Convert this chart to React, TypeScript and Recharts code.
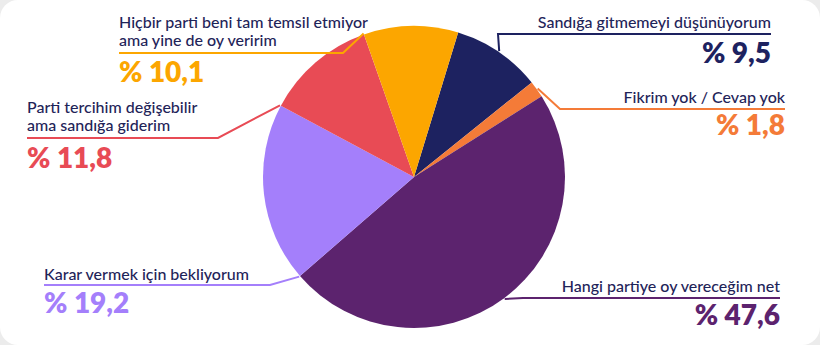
import { PieChart, Pie, Cell } from "recharts";

const categories = [
  ["Sandığa gitmemeyi düşünüyorum"],
  ["Fikrim yok / Cevap yok"],
  ["Hangi partiye oy vereceğim net"],
  ["Karar vermek için bekliyorum"],
  ["Parti tercihim değişebilir", "ama sandığa giderim"],
  ["Hiçbir parti beni tam temsil etmiyor", "ama yine de oy veririm"],
];
const values = [9.5, 1.8, 47.6, 19.2, 11.8, 10.1];
const colors = ["#1d2260", "#f47b38", "#5c236e", "#a47ffb", "#e84b55", "#fca600"];

// label placement: anchor on slice (mid or start edge), bend point, line end, text baselines
const layout = [
  { anchor: "mid", side: "right", bend: [498, 34], end: 771, lines: [28], value: 63 },
  { anchor: "mid", side: "right", bend: [560, 109], end: 785, lines: [103], value: 135 },
  { anchor: "mid", side: "right", bend: [523, 298], end: 780, lines: [292], value: 325 },
  { anchor: "start", side: "left", bend: [270, 285], end: 44, lines: [280], value: 313 },
  { anchor: "start", side: "left", bend: [218, 138], end: 27, lines: [113, 131], value: 168 },
  { anchor: "start", side: "left", bend: [343, 53], end: 119, lines: [28, 46], value: 82 },
];

const data = categories.map((c, i) => ({ name: c.join(" "), value: values[i] }));

const RAD = Math.PI / 180;
const textColor = "#1f2459";
const font = "Lato, 'Open Sans', sans-serif";

function renderLabel(props: any) {
  const { cx, cy, outerRadius, midAngle, startAngle, index } = props;
  const l = layout[index];
  const a = l.anchor === "mid" ? midAngle : startAngle;
  const r = outerRadius + 1;
  const ex = cx + r * Math.cos(a * RAD);
  const ey = cy - r * Math.sin(a * RAD);
  const anchor = l.side === "right" ? "end" : "start";
  const ly = l.bend[1];
  return (
    <g key={`lbl-${index}`}>
      <polyline
        points={`${ex},${ey} ${l.bend[0]},${ly} ${l.end},${ly}`}
        fill="none"
        stroke={colors[index]}
        strokeWidth={2}
      />
      {categories[index].map((t, j) => (
        <text
          key={j}
          x={l.end}
          y={l.lines[j]}
          textAnchor={anchor}
          fill={textColor}
          fontSize={16}
          fontWeight={500}
          fontFamily={font}
        >
          {t}
        </text>
      ))}
      <text
        x={l.end}
        y={l.value}
        textAnchor={anchor}
        fill={colors[index]}
        fontSize={28}
        fontWeight={800}
        fontFamily={font}
      >
        {"% " + values[index].toFixed(1).replace(".", ",")}
      </text>
    </g>
  );
}

export default function App() {
  return (
    <div
      style={{
        position: "fixed",
        left: 0,
        top: 0,
        width: 820,
        height: 345,
        background: "#ececec",
      }}
    >
      <div
        style={{
          width: 820,
          height: 345,
          background: "#ffffff",
          borderRadius: 18,
          overflow: "hidden",
        }}
      >
        <PieChart width={820} height={345}>
          <Pie
            data={data}
            dataKey="value"
            nameKey="name"
            cx={409}
            cy={172}
            outerRadius={151}
            startAngle={73}
            endAngle={-287}
            stroke="none"
            label={renderLabel}
            labelLine={false}
            isAnimationActive={false}
          >
            {data.map((d, i) => (
              <Cell key={d.name} fill={colors[i]} />
            ))}
          </Pie>
        </PieChart>
      </div>
    </div>
  );
}
